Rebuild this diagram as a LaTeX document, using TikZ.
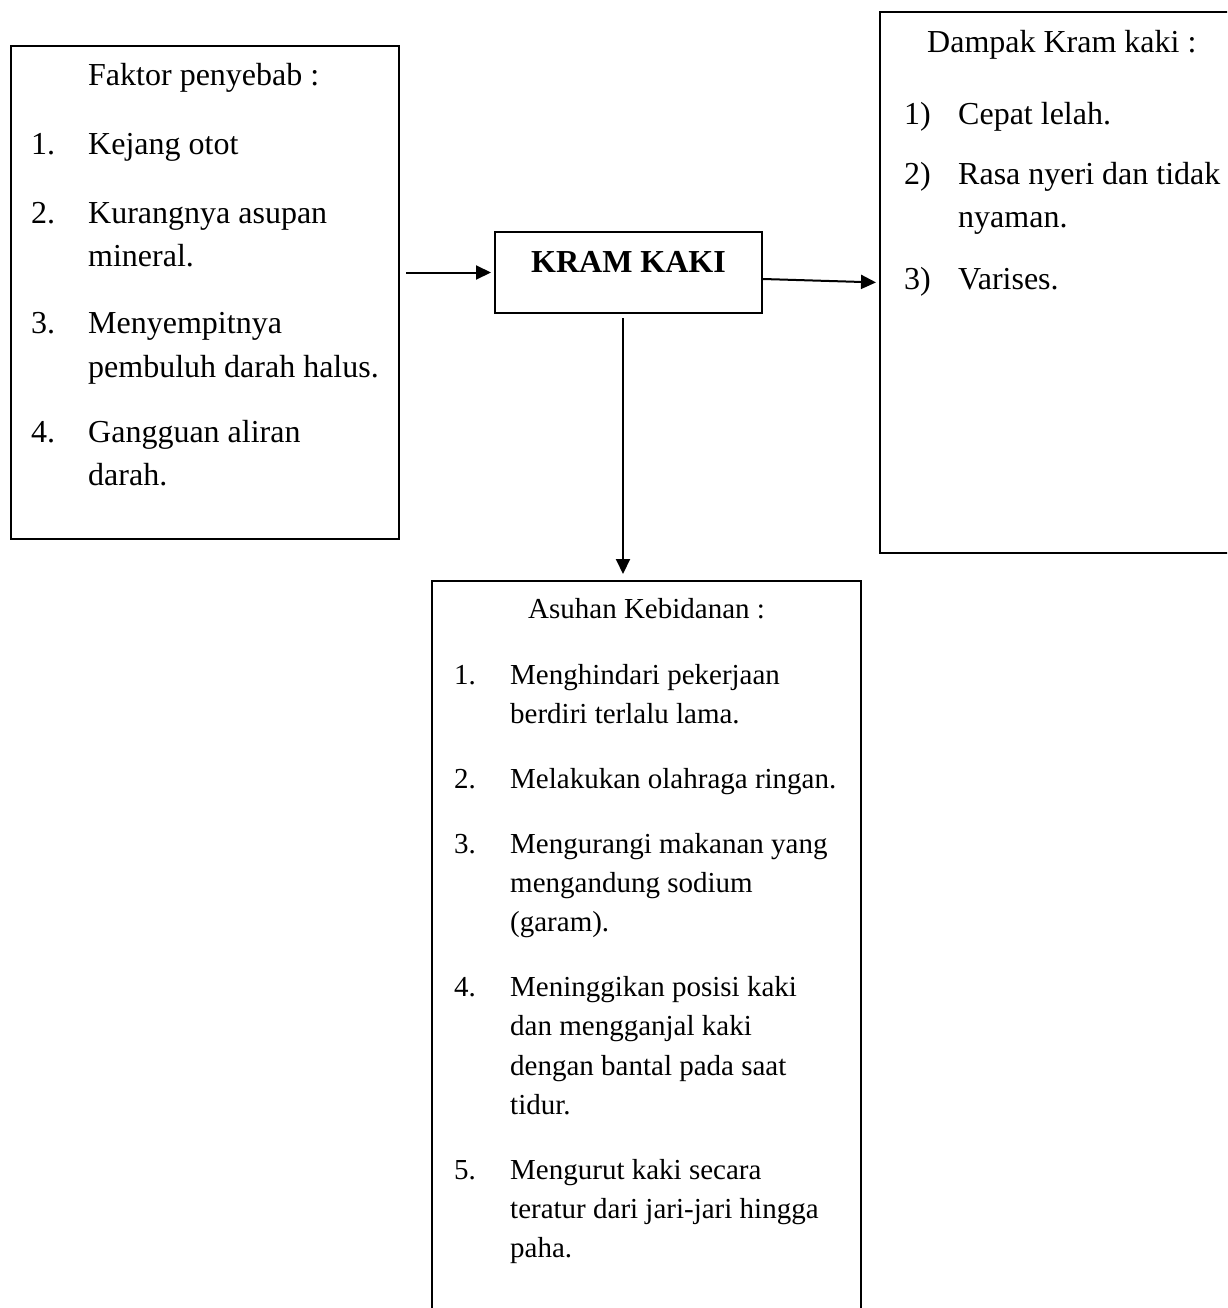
\documentclass[tikz,border=0pt]{standalone}
\usepackage{fontspec}
\setmainfont{Liberation Serif}
\usetikzlibrary{arrows.meta}
\begin{document}
\begin{tikzpicture}[x=1pt,y=-1pt,
  box/.style={draw, line width=2pt, rectangle, inner sep=0pt},
  tA/.style={anchor=base west, inner sep=0pt, font=\fontsize{32}{38}\selectfont},
  tB/.style={anchor=base west, inner sep=0pt, font=\fontsize{29}{35}\selectfont},
  arr/.style={line width=2pt, -{Triangle[length=15pt,width=14pt]}}]
\useasboundingbox (0,0) rectangle (1227,1308);
\clip (0,0) rectangle (1227,1308);

% boxes
\node[box, minimum width=388pt, minimum height=493pt] (faktor) at (205,292.5) {};
\node[box, minimum width=267pt, minimum height=81pt, text height=20pt, text depth=20pt,
      font=\bfseries\fontsize{32}{38}\selectfont] (kram) at (628.5,272.5) {KRAM KAKI};
\node[box, minimum width=370pt, minimum height=541pt] (dampak) at (1065,282.5) {};
\node[box, minimum width=429pt, minimum height=759pt] (asuhan) at (646.5,960.5) {};

% connectors
\draw[arr, shorten <=6pt, shorten >=3pt] (faktor.east |- kram.west) -- (kram.west);
\draw[arr, shorten >=3pt] ([yshift=-6.5pt]kram.east) -- (dampak.west);
\coordinate (dtop) at ([xshift=-5.5pt]kram.south);
\draw[arr, shorten <=4pt, shorten >=6pt] (dtop) -- (dtop |- asuhan.north);

% left box text
\node[tA] (fh) at (88,86) {Faktor penyebab :};
\node[tA] (f1n) at (31,155) {1.};
\node[tA] (f1a) at (88,155) {Kejang otot};
\node[tA] (f2n) at (31,223) {2.};
\node[tA] (f2a) at (88,223) {Kurangnya asupan};
\node[tA] (f2b) at (88,266.5) {mineral.};
\node[tA] (f3n) at (31,333) {3.};
\node[tA] (f3a) at (88,333) {Menyempitnya};
\node[tA] (f3b) at (88,377.5) {pembuluh darah halus.};
\node[tA] (f4n) at (31,442) {4.};
\node[tA] (f4a) at (88,442) {Gangguan aliran};
\node[tA] (f4b) at (88,485.5) {darah.};

% right box text
\node[tA] (dh) at (927,53) {Dampak Kram kaki :};
\node[tA] (d1n) at (904,125) {1)};
\node[tA] (d1a) at (958,125) {Cepat lelah.};
\node[tA] (d2n) at (904,185) {2)};
\node[tA] (d2a) at (958,185) {Rasa nyeri dan tidak};
\node[tA] (d2b) at (958,227) {nyaman.};
\node[tA] (d3n) at (904,289) {3)};
\node[tA] (d3a) at (958,289) {Varises.};

% bottom box text
\node[tB] (ah) at (528,618) {Asuhan Kebidanan :};
\node[tB] (a1n) at (454,684) {1.};
\node[tB] (a1a) at (510,684) {Menghindari pekerjaan};
\node[tB] (a1b) at (510,723) {berdiri terlalu lama.};
\node[tB] (a2n) at (454,788) {2.};
\node[tB] (a2a) at (510,788) {Melakukan olahraga ringan.};
\node[tB] (a3n) at (454,853) {3.};
\node[tB] (a3a) at (510,853) {Mengurangi makanan yang};
\node[tB] (a3b) at (510,892) {mengandung sodium};
\node[tB] (a3c) at (510,931.5) {(garam).};
\node[tB] (a4n) at (454,996) {4.};
\node[tB] (a4a) at (510,996) {Meninggikan posisi kaki};
\node[tB] (a4b) at (510,1035.5) {dan mengganjal kaki};
\node[tB] (a4c) at (510,1075) {dengan bantal pada saat};
\node[tB] (a4d) at (510,1114) {tidur.};
\node[tB] (a5n) at (454,1179) {5.};
\node[tB] (a5a) at (510,1179) {Mengurut kaki secara};
\node[tB] (a5b) at (510,1218) {teratur dari jari-jari hingga};
\node[tB] (a5c) at (510,1257.5) {paha.};
\end{tikzpicture}
\end{document}
